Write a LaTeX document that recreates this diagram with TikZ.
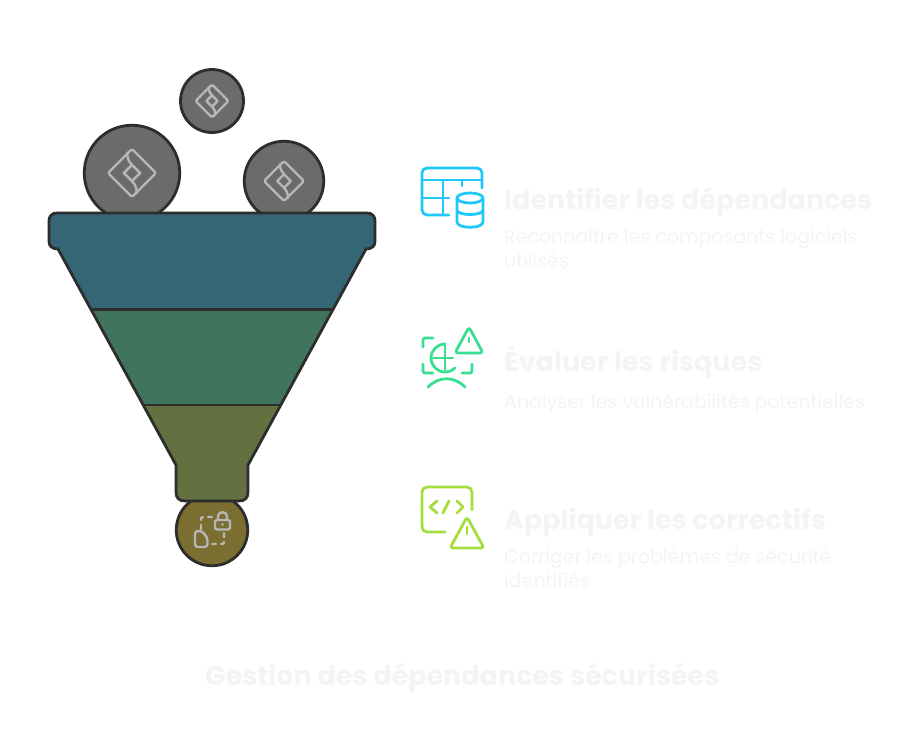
\documentclass[tikz,border=0pt]{standalone}
\usepackage{fontspec}
\setmainfont{Poppins}
\usetikzlibrary{positioning}
\definecolor{ballgray}{HTML}{6B6B6B}
\definecolor{inkdark}{HTML}{2D2D2D}
\definecolor{glyphgray}{HTML}{B7B7B7}
\definecolor{bandteal}{HTML}{356676}
\definecolor{bandgreen}{HTML}{41745C}
\definecolor{bandolive}{HTML}{62713F}
\definecolor{ballolive}{HTML}{7A6E30}
\definecolor{iconblue}{HTML}{1EC8FB}
\definecolor{icongreen}{HTML}{39DF90}
\definecolor{iconlime}{HTML}{A4DE3C}
\definecolor{paletext}{HTML}{F4F4F4}
\tikzset{ball/.style={circle,draw=inkdark,line width=2.8pt,fill=ballgray,inner sep=0pt,outer sep=0pt},
 glyph/.style={draw=glyphgray,line width=2.4pt,line cap=round,line join=round},
 linedicon/.style={line width=2.8pt,line cap=round,line join=round},
 head/.style={anchor=west,inner sep=0pt,font=\fontsize{27}{32}\selectfont\bfseries,text=paletext},
 body/.style={inner sep=0pt,align=left,font=\fontsize{19}{24}\selectfont,text=paletext},
 tile/.pic={\draw[glyph,rounded corners=1.5pt] (0,-1) -- (1,0) -- (0,1) -- (-1,0) -- cycle;
  \draw[glyph] (0,-.34) -- (.34,0) -- (0,.34) -- (-.34,0) -- cycle;
  \draw[glyph] (-.2,-.85) .. controls (-.2,-.6) and (-.12,-.45) .. (0,-.34) (0,.34) .. controls (.16,.5) and (.2,.65) .. (.2,.85);}}
\begin{document}
\begin{tikzpicture}[x=1pt,y=-1pt]
\useasboundingbox (0,0) rectangle (918,739);
\fill[white] (0,0) rectangle (918,739);
% balls behind the funnel
\node[ball,minimum size=63pt] (balltop) at (212,101) {}; \node[ball,minimum size=95.5pt] (ballleft) at (132,173) {}; \node[ball,minimum size=79.5pt] (ballright) at (284,181) {};
\node[ball,fill=ballolive,minimum size=71.5pt] (ballout) at (212,530) {};
\pic[scale=16.5] at (balltop) {tile}; \pic[scale=24] at (ballleft) {tile}; \pic[scale=20] at (ballright) {tile};
% funnel bands
\coordinate (a1) at (91,309.5); \coordinate (a2) at (333,309.5); \coordinate (b1) at (143.5,405); \coordinate (b2) at (280.5,405);
\fill[bandteal] (49,221) .. controls (49,216) and (52,213) .. (57,213) -- (367,213) .. controls (372,213) and (375,216) .. (375,221) -- (375,241) .. controls (375,246) and (372,249) .. (366,249) -- (a2) -- (a1) -- (58,249) .. controls (52,249) and (49,246) .. (49,241) -- cycle;
\fill[bandgreen] (a1) -- (a2) -- (b2) -- (b1) -- cycle;
\fill[bandolive] (b1) -- (b2) -- (248,465) -- (248,492) .. controls (248,498) and (245,501) .. (239,501) -- (185,501) .. controls (179,501) and (176,498) .. (176,492) -- (176,465) -- cycle;
\draw[inkdark,line width=2.8pt,line join=round] (49,221) .. controls (49,216) and (52,213) .. (57,213) -- (367,213) .. controls (372,213) and (375,216) .. (375,221) -- (375,241) .. controls (375,246) and (372,249) .. (366,249) -- (248,465) -- (248,492) .. controls (248,498) and (245,501) .. (239,501) -- (185,501) .. controls (179,501) and (176,498) .. (176,492) -- (176,465) -- (58,249) .. controls (52,249) and (49,246) .. (49,241) -- cycle;
\draw[inkdark,line width=2.8pt] (a1) -- (a2) (b1) -- (b2);
% lock glyph
\draw[glyph,fill=none,rounded corners=1.5pt] (215,520) rectangle (230,529.5);
\draw[glyph] (218,520) -- (218,516) .. controls (218,511) and (227,511) .. (227,516) -- (227,520);
\fill[glyphgray] (222.5,524.5) circle (1.3pt);
\draw[glyph,rounded corners=2pt,dash pattern=on 4pt off 5pt] (212,517) -- (201,517) -- (201,529);
\draw[glyph,rounded corners=2pt,dash pattern=on 4pt off 5pt] (212,544) -- (224,544) -- (224,533);
\draw[glyph,rounded corners=3pt] (195,531) -- (202,531) -- (207.5,538) -- (207.5,547) -- (195,547) -- cycle;
% blue icon
\begin{scope}[iconblue,linedicon]
\draw[rounded corners=5pt] (449,215) -- (422,215) -- (422,168) -- (482,168) -- (482,188);
\draw (422,180) -- (482,180) (422,198) -- (449,198) (443,180) -- (443,215) (462,180) -- (462,186);
\draw (470,198) ellipse (13pt and 5pt);
\draw (457,198) -- (457,222) .. controls (457,229) and (483,229) .. (483,222) -- (483,198);
\draw (457,210) .. controls (457,216) and (483,216) .. (483,210);
\end{scope}
% green icon
\begin{scope}[icongreen,linedicon]
\draw[rounded corners=2pt] (433,338) -- (423,338) -- (423,347);
\draw[rounded corners=2pt] (423,364) -- (423,373) -- (433,373);
\draw[rounded corners=2pt] (462,373) -- (472,373) -- (472,364);
\draw (445,344) arc[start angle=90,end angle=315,radius=14pt];
\draw (445,344) -- (445,370) (433,358) -- (453,358);
\draw (428,387) .. controls (439,376) and (454,376) .. (465,387);
\draw[rounded corners=3pt] (469,327) -- (483,353) -- (455,353) -- cycle;
\draw (469,338) -- (469,342);
\end{scope}
% lime icon
\begin{scope}[iconlime,linedicon]
\draw[rounded corners=5pt] (445,532) -- (422,532) -- (422,487) -- (472,487) -- (472,510);
\draw (437,501) -- (430,507) -- (437,513) (449,501) -- (443,513) (457,501) -- (463,507) -- (457,513);
\draw[rounded corners=3pt] (467,517) -- (484,548) -- (450,548) -- cycle;
\draw (467,527) -- (467,534);
\end{scope}
% texts
\node[head] (idhead) at (504,202) {Identifier les dépendances};
\node[body,below right=12pt and 0pt of idhead.south west] (idbody) {Reconnaître les composants logiciels\\utilisés};
\node[head] (evalhead) at (504,362) {Évaluer les risques};
\node[body,below right=14pt and 0pt of evalhead.south west] (evalbody) {Analyser les vulnérabilités potentielles};
\node[head] (fixhead) at (504,522) {Appliquer les correctifs};
\node[body,below right=12pt and 0pt of fixhead.south west] (fixbody) {Corriger les problèmes de sécurité\\identifiés};
\node[head] (caption) at (205,678) {Gestion des dépendances sécurisées};
\end{tikzpicture}
\end{document}
